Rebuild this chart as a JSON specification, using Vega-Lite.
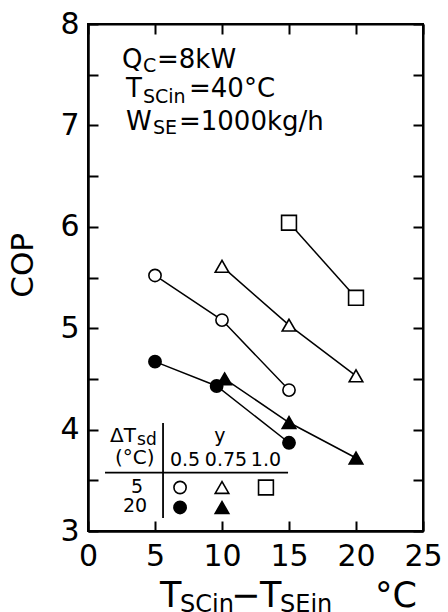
{
  "$schema": "https://vega.github.io/schema/vega-lite/v6.json",
  "width": 335,
  "height": 507,
  "autosize": {"type": "none"},
  "padding": {"left": 88, "top": 24, "right": 25, "bottom": 81},
  "background": "white",
  "config": {
    "view": {"stroke": "black", "strokeWidth": 2},
    "axis": {"grid": false}
  },
  "datasets": {
    "pts": [
      {"x": 5, "y": 5.52, "g": "a", "yv": "0.5", "dt": "5"},
      {"x": 10, "y": 5.08, "g": "a", "yv": "0.5", "dt": "5"},
      {"x": 15, "y": 4.39, "g": "a", "yv": "0.5", "dt": "5"},
      {"x": 10, "y": 5.61, "g": "b", "yv": "0.75", "dt": "5"},
      {"x": 15, "y": 5.03, "g": "b", "yv": "0.75", "dt": "5"},
      {"x": 20, "y": 4.53, "g": "b", "yv": "0.75", "dt": "5"},
      {"x": 15, "y": 6.04, "g": "c", "yv": "1.0", "dt": "5"},
      {"x": 20, "y": 5.30, "g": "c", "yv": "1.0", "dt": "5"},
      {"x": 5, "y": 4.67, "g": "d", "yv": "0.5", "dt": "20"},
      {"x": 9.6, "y": 4.43, "g": "d", "yv": "0.5", "dt": "20"},
      {"x": 15, "y": 3.87, "g": "d", "yv": "0.5", "dt": "20"},
      {"x": 10.2, "y": 4.50, "g": "e", "yv": "0.75", "dt": "20"},
      {"x": 15, "y": 4.07, "g": "e", "yv": "0.75", "dt": "20"},
      {"x": 20, "y": 3.72, "g": "e", "yv": "0.75", "dt": "20"}
    ],
    "leg": [
      {"x": 6.87, "y": 3.429, "yv": "0.5", "dt": "5"},
      {"x": 10.0, "y": 3.429, "yv": "0.75", "dt": "5"},
      {"x": 13.28, "y": 3.429, "yv": "1.0", "dt": "5"},
      {"x": 6.87, "y": 3.232, "yv": "0.5", "dt": "20"},
      {"x": 10.0, "y": 3.232, "yv": "0.75", "dt": "20"}
    ],
    "legRules": [
      {"x": 5.6, "y": 4.064, "x2": 5.6, "y2": 3.128},
      {"x": 1.27, "y": 3.576, "x2": 14.93, "y2": 3.576}
    ],
    "note": [
      {"x": 2.54, "y": 7.562, "t": "Q"},
      {"x": 5.15, "y": 7.562, "t": "=8kW"},
      {"x": 2.84, "y": 7.276, "t": "T"},
      {"x": 7.54, "y": 7.276, "t": "=40°C"},
      {"x": 2.84, "y": 6.951, "t": "W"},
      {"x": 6.79, "y": 6.951, "t": "=1000kg/h"}
    ],
    "noteSub": [
      {"x": 4.1, "y": 7.522, "t": "C"},
      {"x": 4.1, "y": 7.217, "t": "SCin"},
      {"x": 4.85, "y": 6.911, "t": "SE"}
    ],
    "legLeft": [
      {"x": 1.64, "y": 3.877, "t": "ΔT"},
      {"x": 2.01, "y": 3.665, "t": "(°C)"}
    ],
    "legSub": [
      {"x": 3.66, "y": 3.847, "t": "sd"}
    ],
    "legCenter": [
      {"x": 9.85, "y": 3.877, "t": "y"},
      {"x": 7.24, "y": 3.645, "t": "0.5"},
      {"x": 10.3, "y": 3.645, "t": "0.75"},
      {"x": 13.28, "y": 3.645, "t": "1.0"},
      {"x": 3.66, "y": 3.374, "t": "5"},
      {"x": 3.51, "y": 3.187, "t": "20"}
    ],
    "xTitle": [
      {"x": 5.37, "y": 2.251, "t": "T"},
      {"x": 10.67, "y": 2.251, "t": "−"},
      {"x": 12.84, "y": 2.251, "t": "T"},
      {"x": 21.42, "y": 2.251, "t": "°C"}
    ],
    "xTitleSub": [
      {"x": 6.87, "y": 2.2, "t": "SCin"},
      {"x": 14.33, "y": 2.2, "t": "SEin"}
    ],
    "yTitle": [
      {"x": -4.78, "y": 5.62, "t": "COP"}
    ]
  },
  "layer": [
    {
      "data": {"name": "pts"},
      "mark": {"type": "line", "color": "black", "strokeWidth": 1.5},
      "encoding": {
        "x": {"field": "x", "type": "quantitative", "scale": {"domain": [0, 25], "nice": false, "zero": false}, "axis": {"orient": "bottom", "title": null, "tickCount": 5, "ticks": false, "labelPadding": 10, "labelFont": "DejaVu Sans", "labelFontSize": 30, "labelColor": "black", "labelFlush": false, "labelOverlap": false, "domainColor": "black", "domainWidth": 2}},
        "y": {"field": "y", "type": "quantitative", "scale": {"domain": [3, 8], "nice": false, "zero": false}, "axis": {"orient": "left", "title": null, "tickCount": 5, "ticks": false, "labelPadding": 9, "labelFont": "DejaVu Sans", "labelFontSize": 30, "labelColor": "black", "labelFlush": false, "labelOverlap": false, "domainColor": "black", "domainWidth": 2}},
        "detail": {"field": "g"}
      }
    },
    {
      "data": {"values": [{"x": 5, "y": 5}, {"x": 20, "y": 7}]},
      "mark": {"type": "point", "opacity": 0},
      "encoding": {
        "x": {"field": "x", "type": "quantitative", "scale": {"domain": [0, 25], "nice": false, "zero": false}, "axis": {"orient": "bottom", "title": null, "tickCount": 5, "tickSize": -10, "tickColor": "black", "tickWidth": 2, "labelOpacity": 0, "domainColor": "black", "domainWidth": 2}},
        "y": {"field": "y", "type": "quantitative", "scale": {"domain": [3, 8], "nice": false, "zero": false}, "axis": {"orient": "left", "title": null, "tickCount": 10, "tickSize": -10, "tickColor": "black", "tickWidth": 2, "labelOpacity": 0, "domainColor": "black", "domainWidth": 2}}
      }
    },
    {
      "data": {"values": [{"x": 5, "y": 5}, {"x": 20, "y": 7}]},
      "mark": {"type": "point", "opacity": 0},
      "encoding": {
        "x": {"field": "x", "type": "quantitative", "scale": {"domain": [0, 25], "nice": false, "zero": false}, "axis": {"orient": "top", "title": null, "tickCount": 5, "tickSize": -10, "tickColor": "black", "tickWidth": 2, "labelOpacity": 0, "domainColor": "black", "domainWidth": 2}},
        "y": {"field": "y", "type": "quantitative", "scale": {"domain": [3, 8], "nice": false, "zero": false}, "axis": {"orient": "right", "title": null, "tickCount": 10, "tickSize": -10, "tickColor": "black", "tickWidth": 2, "labelOpacity": 0, "domainColor": "black", "domainWidth": 2}}
      }
    },
    {
      "data": {"name": "pts"},
      "mark": {"type": "point", "filled": true, "stroke": "black", "strokeWidth": 1.6, "opacity": 1},
      "encoding": {
        "x": {"field": "x", "type": "quantitative", "scale": {"domain": [0, 25], "nice": false, "zero": false}, "axis": null},
        "y": {"field": "y", "type": "quantitative", "scale": {"domain": [3, 8], "nice": false, "zero": false}, "axis": null},
        "shape": {"field": "yv", "type": "nominal", "scale": {"domain": ["0.5", "0.75", "1.0"], "range": ["circle", "triangle-up", "square"]}, "legend": null},
        "size": {"field": "yv", "type": "nominal", "scale": {"domain": ["0.5", "0.75", "1.0"], "range": [150, 220, 120]}, "legend": null},
        "fill": {"field": "dt", "type": "nominal", "scale": {"domain": ["5", "20"], "range": ["white", "black"]}, "legend": null}
      }
    },
    {
      "data": {"name": "leg"},
      "mark": {"type": "point", "filled": true, "stroke": "black", "strokeWidth": 1.6, "opacity": 1},
      "encoding": {
        "x": {"field": "x", "type": "quantitative", "scale": {"domain": [0, 25], "nice": false, "zero": false}, "axis": null},
        "y": {"field": "y", "type": "quantitative", "scale": {"domain": [3, 8], "nice": false, "zero": false}, "axis": null},
        "shape": {"field": "yv", "type": "nominal", "scale": {"domain": ["0.5", "0.75", "1.0"], "range": ["circle", "triangle-up", "square"]}, "legend": null},
        "size": {"field": "yv", "type": "nominal", "scale": {"domain": ["0.5", "0.75", "1.0"], "range": [150, 220, 120]}, "legend": null},
        "fill": {"field": "dt", "type": "nominal", "scale": {"domain": ["5", "20"], "range": ["white", "black"]}, "legend": null}
      }
    },
    {
      "data": {"name": "legRules"},
      "mark": {"type": "rule", "color": "black", "strokeWidth": 1.8},
      "encoding": {
        "x": {"field": "x", "type": "quantitative", "scale": {"domain": [0, 25], "nice": false, "zero": false}, "axis": null},
        "y": {"field": "y", "type": "quantitative", "scale": {"domain": [3, 8], "nice": false, "zero": false}, "axis": null},
        "x2": {"field": "x2"},
        "y2": {"field": "y2"}
      }
    },
    {
      "data": {"name": "note"},
      "mark": {"type": "text", "font": "DejaVu Sans", "color": "black", "fontSize": 26, "align": "left", "baseline": "alphabetic"},
      "encoding": {
        "x": {"field": "x", "type": "quantitative", "scale": {"domain": [0, 25], "nice": false, "zero": false}, "axis": null},
        "y": {"field": "y", "type": "quantitative", "scale": {"domain": [3, 8], "nice": false, "zero": false}, "axis": null},
        "text": {"field": "t"}
      }
    },
    {
      "data": {"name": "noteSub"},
      "mark": {"type": "text", "font": "DejaVu Sans", "color": "black", "fontSize": 19, "align": "left", "baseline": "alphabetic"},
      "encoding": {
        "x": {"field": "x", "type": "quantitative", "scale": {"domain": [0, 25], "nice": false, "zero": false}, "axis": null},
        "y": {"field": "y", "type": "quantitative", "scale": {"domain": [3, 8], "nice": false, "zero": false}, "axis": null},
        "text": {"field": "t"}
      }
    },
    {
      "data": {"name": "legLeft"},
      "mark": {"type": "text", "font": "DejaVu Sans", "color": "black", "fontSize": 20, "align": "left", "baseline": "alphabetic"},
      "encoding": {
        "x": {"field": "x", "type": "quantitative", "scale": {"domain": [0, 25], "nice": false, "zero": false}, "axis": null},
        "y": {"field": "y", "type": "quantitative", "scale": {"domain": [3, 8], "nice": false, "zero": false}, "axis": null},
        "text": {"field": "t"}
      }
    },
    {
      "data": {"name": "legSub"},
      "mark": {"type": "text", "font": "DejaVu Sans", "color": "black", "fontSize": 17, "align": "left", "baseline": "alphabetic"},
      "encoding": {
        "x": {"field": "x", "type": "quantitative", "scale": {"domain": [0, 25], "nice": false, "zero": false}, "axis": null},
        "y": {"field": "y", "type": "quantitative", "scale": {"domain": [3, 8], "nice": false, "zero": false}, "axis": null},
        "text": {"field": "t"}
      }
    },
    {
      "data": {"name": "legCenter"},
      "mark": {"type": "text", "font": "DejaVu Sans", "color": "black", "fontSize": 19, "align": "center", "baseline": "alphabetic"},
      "encoding": {
        "x": {"field": "x", "type": "quantitative", "scale": {"domain": [0, 25], "nice": false, "zero": false}, "axis": null},
        "y": {"field": "y", "type": "quantitative", "scale": {"domain": [3, 8], "nice": false, "zero": false}, "axis": null},
        "text": {"field": "t"}
      }
    },
    {
      "data": {"name": "xTitle"},
      "mark": {"type": "text", "font": "DejaVu Sans", "color": "black", "fontSize": 35, "align": "left", "baseline": "alphabetic"},
      "encoding": {
        "x": {"field": "x", "type": "quantitative", "scale": {"domain": [0, 25], "nice": false, "zero": false}, "axis": null},
        "y": {"field": "y", "type": "quantitative", "scale": {"domain": [3, 8], "nice": false, "zero": false}, "axis": null},
        "text": {"field": "t"}
      }
    },
    {
      "data": {"name": "xTitleSub"},
      "mark": {"type": "text", "font": "DejaVu Sans", "color": "black", "fontSize": 24, "align": "left", "baseline": "alphabetic"},
      "encoding": {
        "x": {"field": "x", "type": "quantitative", "scale": {"domain": [0, 25], "nice": false, "zero": false}, "axis": null},
        "y": {"field": "y", "type": "quantitative", "scale": {"domain": [3, 8], "nice": false, "zero": false}, "axis": null},
        "text": {"field": "t"}
      }
    },
    {
      "data": {"name": "yTitle"},
      "mark": {"type": "text", "font": "DejaVu Sans", "color": "black", "fontSize": 31, "align": "center", "baseline": "middle", "angle": 270},
      "encoding": {
        "x": {"field": "x", "type": "quantitative", "scale": {"domain": [0, 25], "nice": false, "zero": false}, "axis": null},
        "y": {"field": "y", "type": "quantitative", "scale": {"domain": [3, 8], "nice": false, "zero": false}, "axis": null},
        "text": {"field": "t"}
      }
    }
  ],
  "resolve": {"axis": {"x": "independent", "y": "independent"}}
}
